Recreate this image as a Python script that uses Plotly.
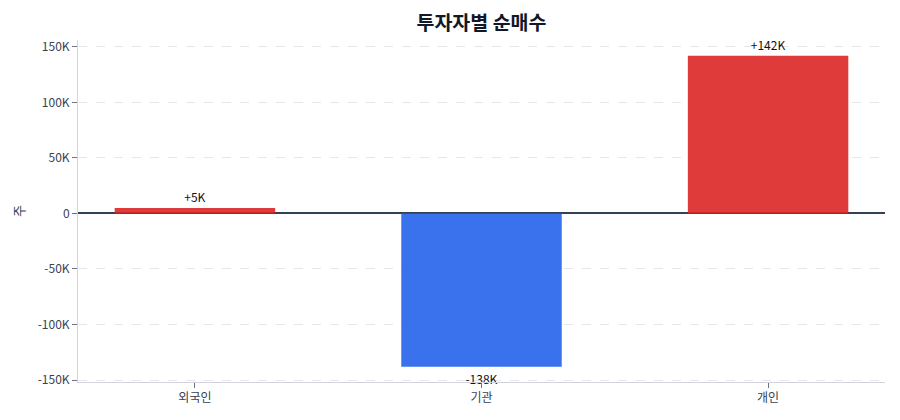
import plotly.graph_objects as go

categories = ["외국인", "기관", "개인"]
values = [5000, -138000, 142000]
labels = ["+5K", "-138K", "+142K"]

colors = ["#dc2626" if v >= 0 else "#2563eb" for v in values]
vmax = max(values)
vmin = min(values)

fig = go.Figure(go.Bar(
    x=categories, y=values, text=labels, textposition="outside",
    textfont=dict(size=12, color="#111111"),
    marker=dict(color=colors, opacity=0.9, line=dict(width=0)),
    width=0.56, cliponaxis=False,
))
fig.update_layout(
    width=900, height=420,
    margin=dict(l=70, r=23, t=32, b=46, autoexpand=False),
    paper_bgcolor="white", plot_bgcolor="white",
    font=dict(family="Noto Sans CJK KR", size=12, color="#374151"),
    title=dict(text="<b>투자자별 순매수</b>", x=0.5, xref="paper", xanchor="center",
               y=0.965, yanchor="middle",
               font=dict(size=19.5, color="#111827")),
    showlegend=False,
)
fig.update_yaxes(
    range=[vmin * 1.1, vmax * 1.1],
    tickvals=[-150000, -100000, -50000, 0, 50000, 100000, 150000],
    ticktext=["-150K", "-100K", "-50K", "0", "50K", "100K", "150K"],
    showgrid=True, gridcolor="#e5e7eb", griddash="dash", gridwidth=1,
    zeroline=True, zerolinecolor="#334155", zerolinewidth=1.5,
    showline=True, linecolor="#d1d5db", linewidth=1,
    ticks="outside", tickcolor="#6b7280", ticklen=5,
    title=dict(text="주", standoff=10, font=dict(size=13, color="#374151")),
)
fig.update_xaxes(
    range=[-0.408, 2.408],
    showline=True, linecolor="#d1d5db", linewidth=1,
    ticks="outside", tickcolor="#6b7280", ticklen=5,
    showgrid=False,
)
fig.write_html("out.html")
